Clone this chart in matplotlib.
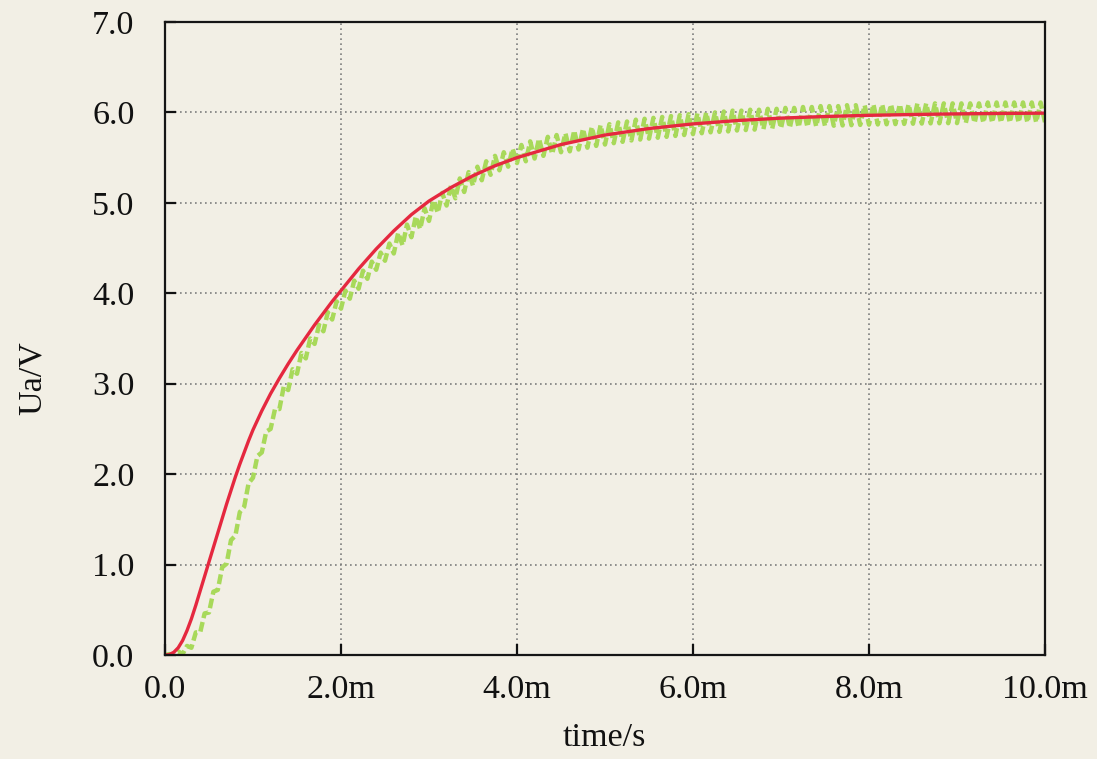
import numpy as np
import matplotlib
matplotlib.use("Agg")
import matplotlib.pyplot as plt
from matplotlib.ticker import FixedLocator

# ---- data (time in ms, voltage in V) ----
red_t = [0.0, 0.05, 0.1, 0.15, 0.2, 0.25, 0.3, 0.35, 0.4, 0.45, 0.5, 0.55, 0.6, 0.65, 0.7, 0.75,
         0.8, 0.85, 0.9, 0.95, 1.0, 1.1, 1.2, 1.3, 1.4, 1.5, 1.6, 1.7, 1.8, 1.9, 2.0, 2.2, 2.4,
         2.6, 2.8, 3.0, 3.25, 3.5, 3.75, 4.0, 4.5, 5.0, 5.5, 6.0, 6.5, 7.0, 7.5, 8.0, 8.5, 9.0,
         9.5, 10.0]
red_v = [0.0, 0.005, 0.03, 0.08, 0.16, 0.27, 0.40, 0.55, 0.71, 0.87, 1.03, 1.19, 1.35, 1.51, 1.67, 1.82,
         1.97, 2.11, 2.24, 2.37, 2.49, 2.70, 2.89, 3.06, 3.22, 3.37, 3.51, 3.65, 3.78, 3.91, 4.03, 4.27, 4.49,
         4.69, 4.87, 5.02, 5.17, 5.30, 5.41, 5.50, 5.645, 5.75, 5.822, 5.873, 5.91, 5.937, 5.955, 5.968, 5.977, 5.984,
         5.989, 5.992]

# green: ripple troughs at t = 0.0, 0.1, ... 10.0 ms
green_trough = [0.00, 0.00, 0.01, 0.08, 0.25, 0.47, 0.72, 1.01, 1.32, 1.64,
                1.96, 2.24, 2.50, 2.72, 2.93, 3.11, 3.28, 3.44, 3.58, 3.71,
                3.83, 3.94, 4.05, 4.16, 4.26, 4.36, 4.44, 4.53, 4.62, 4.71,
                4.80, 4.89, 4.97, 5.05, 5.12, 5.19, 5.25, 5.31, 5.36, 5.40,
                5.44, 5.46, 5.49, 5.52, 5.54, 5.56, 5.57, 5.59, 5.61, 5.63,
                5.645, 5.66, 5.675, 5.69, 5.70, 5.71, 5.72, 5.73, 5.74, 5.75,
                5.76, 5.77, 5.78, 5.785, 5.79, 5.80, 5.805, 5.81, 5.815, 5.82,
                5.825, 5.83, 5.835, 5.84, 5.845, 5.85, 5.853, 5.856, 5.859, 5.862,
                5.865, 5.867, 5.869, 5.871, 5.873, 5.875, 5.877, 5.879, 5.88, 5.881,
                5.882, 5.883, 5.884, 5.885, 5.886, 5.887, 5.887, 5.888, 5.888, 5.889,
                5.89]
# green: ripple peaks at t = 0.05, 0.15, ... 9.95 ms
green_peak = [0.01, 0.04, 0.10, 0.25, 0.46, 0.70, 0.97, 1.27, 1.58, 1.90,
              2.20, 2.47, 2.72, 2.97, 3.16, 3.34, 3.50, 3.65, 3.79, 3.91,
              4.03, 4.14, 4.25, 4.35, 4.45, 4.55, 4.67, 4.76, 4.85, 4.94,
              5.03, 5.11, 5.19, 5.27, 5.34, 5.40, 5.46, 5.52, 5.56, 5.60,
              5.64, 5.68, 5.71, 5.73, 5.75, 5.77, 5.80, 5.82, 5.84, 5.86,
              5.87, 5.89, 5.90, 5.92, 5.93, 5.94, 5.95, 5.96, 5.97, 5.98,
              5.99, 6.00, 6.00, 6.01, 6.02, 6.02, 6.03, 6.03, 6.04, 6.04,
              6.05, 6.05, 6.06, 6.06, 6.07, 6.07, 6.07, 6.08, 6.08, 6.08,
              6.09, 6.09, 6.09, 6.09, 6.09, 6.10, 6.10, 6.10, 6.10, 6.10,
              6.10, 6.10, 6.10, 6.11, 6.11, 6.11, 6.11, 6.11, 6.11, 6.11]

x_ticks = [0, 2, 4, 6, 8, 10]
x_labels = ["0.0", "2.0m", "4.0m", "6.0m", "8.0m", "10.0m"]
y_ticks = [0, 1, 2, 3, 4, 5, 6, 7]
y_labels = ["0.0", "1.0", "2.0", "3.0", "4.0", "5.0", "6.0", "7.0"]

# interleave trough / peak samples
green_t, green_v = [], []
for i, tv in enumerate(green_trough):
    green_t.append(i * 0.1)
    green_v.append(tv)
    if i < len(green_peak):
        green_t.append(i * 0.1 + 0.05)
        green_v.append(green_peak[i])

# ---- style ----
bg = "#f2efe5"
plt.rcParams["font.family"] = ["Liberation Serif", "DejaVu Serif"]

fig = plt.figure(figsize=(10.97, 7.59), dpi=100, facecolor=bg)
ax = fig.add_axes([165 / 1097, 1 - 655 / 759, (1045 - 165) / 1097, (655 - 22) / 759])
ax.set_facecolor(bg)

ax.plot(green_t, green_v, color="#a8d95a", lw=3.2, ls=(0, (2.2, 0.9)), zorder=3)
ax.plot(red_t, red_v, color="#e5283f", lw=2.4, zorder=4, solid_joinstyle="round")

ax.set_xlim(0, 10)
ax.set_ylim(0, 7)
ax.xaxis.set_major_locator(FixedLocator(x_ticks))
ax.yaxis.set_major_locator(FixedLocator(y_ticks))
ax.set_xticklabels(x_labels)
ax.set_yticklabels(y_labels)
ax.tick_params(direction="in", length=8, width=1.6, labelsize=24.5, colors="#111111")
ax.tick_params(axis="y", pad=22)
ax.tick_params(axis="x", pad=14)

ax.grid(True, color="#7d7d7d", linestyle=(0, (1.0, 2.0)), linewidth=1.2, zorder=1)
for s in ax.spines.values():
    s.set_linewidth(1.6)
    s.set_color("#151515")
    s.set_zorder(5)

fig.text(32 / 1097, 1 - 378 / 759, "Ua/V", rotation=90, ha="center", va="center",
         fontsize=24.5, color="#111111")
fig.text(604 / 1097, 1 - 738 / 759, "time/s", ha="center", va="center",
         fontsize=24.5, color="#111111")

fig.savefig("out.png", dpi=100, facecolor=bg)
